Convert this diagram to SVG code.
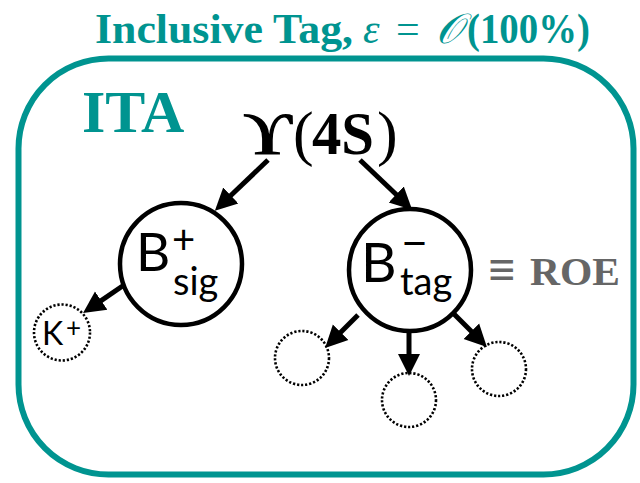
<svg xmlns="http://www.w3.org/2000/svg" width="640" height="483" viewBox="0 0 640 483">
<defs>
<style>
.teal{fill:#009490}
.ser{font-family:"Liberation Serif","Times New Roman",serif}
.sans{font-family:Lato,"Open Sans","Liberation Sans",sans-serif}
.node{fill:#fff;stroke:#000;stroke-width:4.5}
.dot{fill:none;stroke:#000;stroke-width:2.6;stroke-dasharray:2.2 1.9}
.arr{stroke:#000;stroke-width:5;fill:none;marker-end:url(#ah)}
</style>
<marker id="ah" markerUnits="userSpaceOnUse" markerWidth="24" markerHeight="24" refX="8" refY="11" orient="auto" viewBox="0 0 24 22">
<path d="M0,0 L22,11 L0,22 z" fill="#000"/>
</marker>
</defs>
<rect width="640" height="483" fill="#fff"/>
<g id="title" class="teal ser" font-weight="bold" font-size="42">
<text x="95" y="43" textLength="258" lengthAdjust="spacingAndGlyphs">Inclusive Tag,</text>
<text x="363" y="43" font-style="italic" font-weight="normal">ε</text>
<text x="396" y="43" font-weight="normal">=</text>
<text x="436" y="43" font-style="italic" font-weight="normal" font-family="'DejaVu Serif','Noto Sans',serif">𝒪</text>
<text x="467" y="43" textLength="123" lengthAdjust="spacingAndGlyphs">(100%)</text>
</g>
<g id="box">
<rect x="18.5" y="58.5" width="615" height="416" rx="90" ry="90" fill="none" stroke="#009490" stroke-width="6"/>
</g>
<g id="ita">
<text x="82" y="132" class="teal ser" font-weight="bold" font-size="60">ITA</text>
</g>
<g id="upsilon" class="ser" font-size="62">
<text x="243" y="154" font-weight="bold" font-family="'Liberation Serif','DejaVu Serif',serif" textLength="50" lengthAdjust="spacingAndGlyphs">ϒ</text>
<text x="293" y="154">(</text>
<text x="312" y="154" font-weight="bold" textLength="62" lengthAdjust="spacingAndGlyphs">4S</text>
<text x="377" y="154">)</text>
</g>
<g id="connectors">
<line class="arr" x1="268" y1="160" x2="225" y2="201"/>
<line class="arr" x1="360" y1="160" x2="402" y2="200"/>
<line class="arr" x1="124" y1="285" x2="94.6" y2="305.1"/>
<line class="arr" x1="358" y1="315" x2="335" y2="338"/>
<line class="arr" x1="409" y1="332" x2="409" y2="362"/>
<line class="arr" x1="453" y1="313" x2="477" y2="337"/>
</g>
<g id="bsig">
<circle class="node" cx="181" cy="264" r="61"/>
<text class="sans" x="136" y="271" font-size="53">B</text>
<text class="sans" x="172" y="254" font-size="40">+</text>
<text class="sans" x="173" y="295" font-size="38">sig</text>
</g>
<g id="btag">
<circle class="node" cx="410" cy="270" r="61"/>
<text class="sans" x="361" y="282" font-size="55">B</text>
<text class="sans" x="401" y="259" font-size="44" textLength="27" lengthAdjust="spacingAndGlyphs">−</text>
<text class="sans" x="400" y="295" font-size="38">tag</text>
</g>
<g id="roe" class="ser" font-weight="bold" fill="#666">
<text x="488" y="286" font-size="48">≡</text>
<text x="530" y="285" font-size="41" textLength="90" lengthAdjust="spacingAndGlyphs">ROE</text>
</g>
<g id="kplus">
<circle class="dot" cx="62" cy="332.5" r="28"/>
<text class="sans" x="42" y="345" font-size="32">K</text>
<text class="sans" x="66" y="337" font-size="26">+</text>
</g>
<g id="d1"><circle class="dot" cx="302" cy="358" r="27"/></g>
<g id="d2"><circle class="dot" cx="409" cy="400" r="27"/></g>
<g id="d3"><circle class="dot" cx="499" cy="369" r="27"/></g>
</svg>
